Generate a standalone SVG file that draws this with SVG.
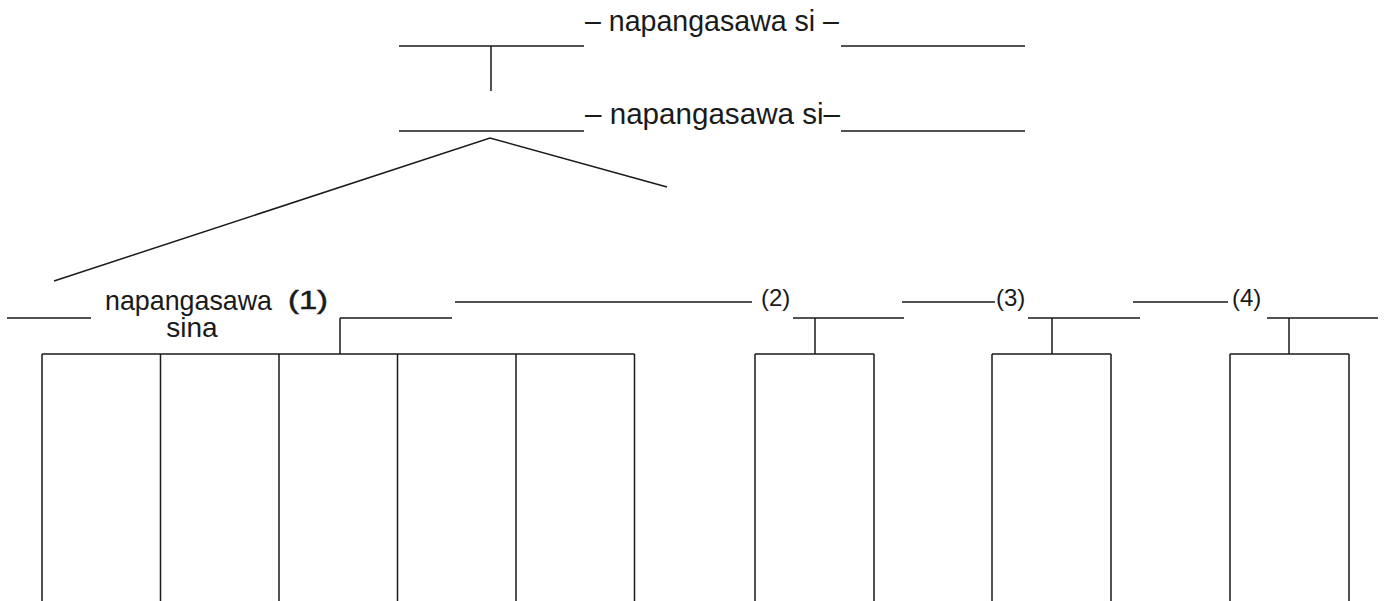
<svg xmlns="http://www.w3.org/2000/svg" width="1391" height="601" viewBox="0 0 1391 601">
<style>
.ln{stroke:#1a1a1a;stroke-width:1.5;fill:none}
.t{font-family:"Liberation Sans",Arial,sans-serif;fill:#1a1a1a}
.big{font-size:30px}
.mid{font-size:28px}
.num{font-size:24px}
</style>
<rect width="1391" height="601" fill="#fff"/>
<g id="row1">
<text class="t big" x="585" y="31" textLength="254" lengthAdjust="spacingAndGlyphs">– napangasawa si –</text>
</g>
<g id="row2">
<text class="t big" x="585" y="124" textLength="255" lengthAdjust="spacingAndGlyphs">– napangasawa si–</text>
</g>
<g id="label1">
<text class="t mid"><tspan x="105" y="310" textLength="167" lengthAdjust="spacingAndGlyphs">napangasawa</tspan><tspan x="192" y="337" text-anchor="middle">sina</tspan></text>
<text class="t" x="288" y="309" font-size="26" stroke="#1a1a1a" stroke-width="0.5" textLength="40" lengthAdjust="spacingAndGlyphs">(1)</text>
</g>
<g id="label2"><text class="t num" x="761" y="306">(2)</text></g>
<g id="label3"><text class="t num" x="996" y="306">(3)</text></g>
<g id="label4"><text class="t num" x="1232" y="306">(4)</text></g>
<g id="connectors" class="ln">
<path d="M399 46H584M841 46H1025M491 46V91"/>
<path d="M399 131H584M841 131H1025"/>
<path d="M54 281L490 138L667 187"/>
<path d="M7 318H91M340 318H452M793 318H904M1028 318H1140M1267 318H1378"/>
<path d="M455 302H752M902 302H995M1133 302H1228"/>
<path d="M340 318V354M42 354H634.5M42 354V601M160.5 354V601M279 354V601M397.5 354V601M516 354V601M634.5 354V601"/>
<path d="M815 318V354M755 354H874M755 354V601M874 354V601"/>
<path d="M1052 318V354M992 354H1111M992 354V601M1111 354V601"/>
<path d="M1289 318V354M1230 354H1349M1230 354V601M1349 354V601"/>
</g>
</svg>
